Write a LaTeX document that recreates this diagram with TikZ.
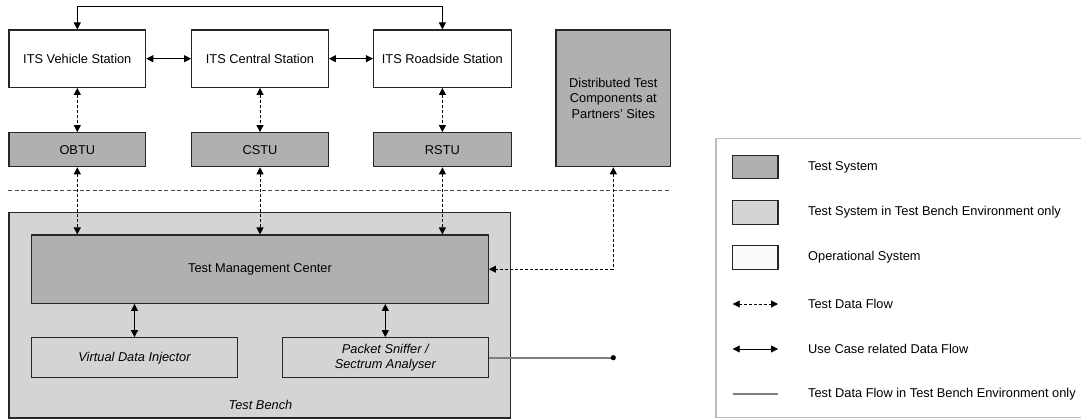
\documentclass[tikz,border=0pt]{standalone}
\usepackage{fontspec}
\setmainfont{Liberation Sans}
\usetikzlibrary{arrows.meta,calc}
\definecolor{testsys}{HTML}{B0B0B0}
\definecolor{benchsys}{HTML}{D4D4D4}
\definecolor{opsys}{HTML}{FFFFFF}
\definecolor{benchline}{HTML}{7F7F7F}
\definecolor{legendframe}{HTML}{BDBDBD}
\tikzset{
  box/.style={draw=black!85, line width=1.2pt, inner sep=0pt, align=center,
    font=\fontsize{12.8}{15.5}\selectfont},
  testbox/.style={box, fill=testsys},
  benchbox/.style={box, fill=benchsys},
  opbox/.style={box, fill=opsys},
  usecase/.style={draw=black, line width=0.9pt, {Triangle[length=7pt,width=7pt]}-{Triangle[length=7pt,width=7pt]}},
  testflow/.style={draw=black, line width=0.9pt, dash pattern=on 3pt off 2pt,
    {Triangle[length=7pt,width=7pt]}-{Triangle[length=7pt,width=7pt]}},
  benchflow/.style={draw=benchline, line width=2pt},
  separator/.style={draw=black!70, line width=0.9pt, dash pattern=on 4pt off 2.5pt},
  legtext/.style={anchor=west, inner sep=0pt, font=\fontsize{12.8}{15.5}\selectfont},
}
\begin{document}
\begin{tikzpicture}[x=1pt,y=-1pt]
\useasboundingbox (0,0) rectangle (1081,420);

% operational stations
\node[opbox, minimum width=136.7pt, minimum height=57.3pt] (veh) at (77.3,58.7) {ITS Vehicle Station};
\node[opbox, minimum width=136.7pt, minimum height=57.3pt] (cen) at (260,58.7) {ITS Central Station};
\node[opbox, minimum width=137.7pt, minimum height=57.3pt] (road) at (442.4,58.7) {ITS Roadside Station};
\node[testbox, minimum width=114.7pt, minimum height=136.7pt] (dist) at (613.3,98.3)
  {Distributed Test\\Components at\\Partners' Sites};

% test units
\node[testbox, minimum width=136.7pt, minimum height=34pt] (obtu) at (77.3,149.7) {OBTU};
\node[testbox, minimum width=136.7pt, minimum height=34pt] (cstu) at (260,149.7) {CSTU};
\node[testbox, minimum width=137.7pt, minimum height=34pt] (rstu) at (442.4,149.7) {RSTU};

% separator between operational and test bench environment
\coordinate (sepL) at (8,190);
\coordinate (sepR) at (671,190);
\draw[separator] (sepL) -- (sepR);

% test bench
\node[benchbox, minimum width=501.7pt, minimum height=205.3pt] (tb) at (259.9,315.35) {};
\node[anchor=base, font=\fontsize{12.8}{15.5}\selectfont\itshape] (tblabel) at (260.5,409) {Test Bench};
\node[testbox, minimum width=456.6pt, minimum height=68.3pt] (tmc) at (260,269.2) {Test Management Center};
\node[benchbox, minimum width=205.6pt, minimum height=40pt, font=\fontsize{12.8}{15.5}\selectfont\itshape] (vdi) at (134.5,357.7) {Virtual Data Injector};
\node[benchbox, minimum width=206pt, minimum height=40pt, font=\fontsize{12.8}{15.5}\selectfont\itshape] (ps) at (385.3,357.7) {Packet Sniffer /\\Sectrum Analyser};
\coordinate (tap) at (613.3,357.7);

% use case related data flow
\draw[usecase] (veh.north) -- ++(0,-23.3) -| (road.north);
\draw[usecase] (veh.east) -- (cen.west);
\draw[usecase] (cen.east) -- (road.west);
\draw[usecase] (tmc.south -| vdi.north) -- (vdi.north);
\draw[usecase] (tmc.south -| ps.north) -- (ps.north);

% test data flow
\draw[testflow] (veh.south) -- (obtu.north);
\draw[testflow] (cen.south) -- (cstu.north);
\draw[testflow] (road.south) -- (rstu.north);
\draw[testflow] (obtu.south) -- (obtu.south |- tmc.north);
\draw[testflow] (cstu.south) -- (cstu.south |- tmc.north);
\draw[testflow] (rstu.south) -- (rstu.south |- tmc.north);
\draw[testflow] (dist.south) |- (tmc.east);

% test data flow in test bench environment only
\draw[benchflow] (ps.east) -- (tap);
\fill[black] (tap) circle (2.6pt);

% legend
\draw[legendframe, line width=1.2pt] (1095,138.3) -- (716,138.3) -- (716,417.7) -- (1095,417.7);
\node[testbox, minimum width=45.3pt, minimum height=23.5pt] (lg1) at (755.4,167) {};
\node[benchbox, minimum width=45.3pt, minimum height=23.5pt] (lg2) at (755.4,212.4) {};
\node[box, fill=white!98!black, minimum width=45.3pt, minimum height=23.5pt] (lg3) at (755.4,257.5) {};
\node[legtext] (lt1) at (808,167) {Test System};
\node[legtext] (lt2) at (808,212.4) {Test System in Test Bench Environment only};
\node[legtext] (lt3) at (808,257.5) {Operational System};
\coordinate (la1) at (732.7,304);
\coordinate (lb1) at (778,304);
\coordinate (la2) at (732.7,349);
\coordinate (lb2) at (778,349);
\coordinate (la3) at (732.7,394);
\coordinate (lb3) at (778,394);
\draw[testflow] (la1) -- (lb1);
\draw[usecase] (la2) -- (lb2);
\draw[benchflow] (la3) -- (lb3);
\node[legtext] (lt4) at (808,304) {Test Data Flow};
\node[legtext] (lt5) at (808,349) {Use Case related Data Flow};
\node[legtext] (lt6) at (808,394) {Test Data Flow in Test Bench Environment only};
\end{tikzpicture}
\end{document}
